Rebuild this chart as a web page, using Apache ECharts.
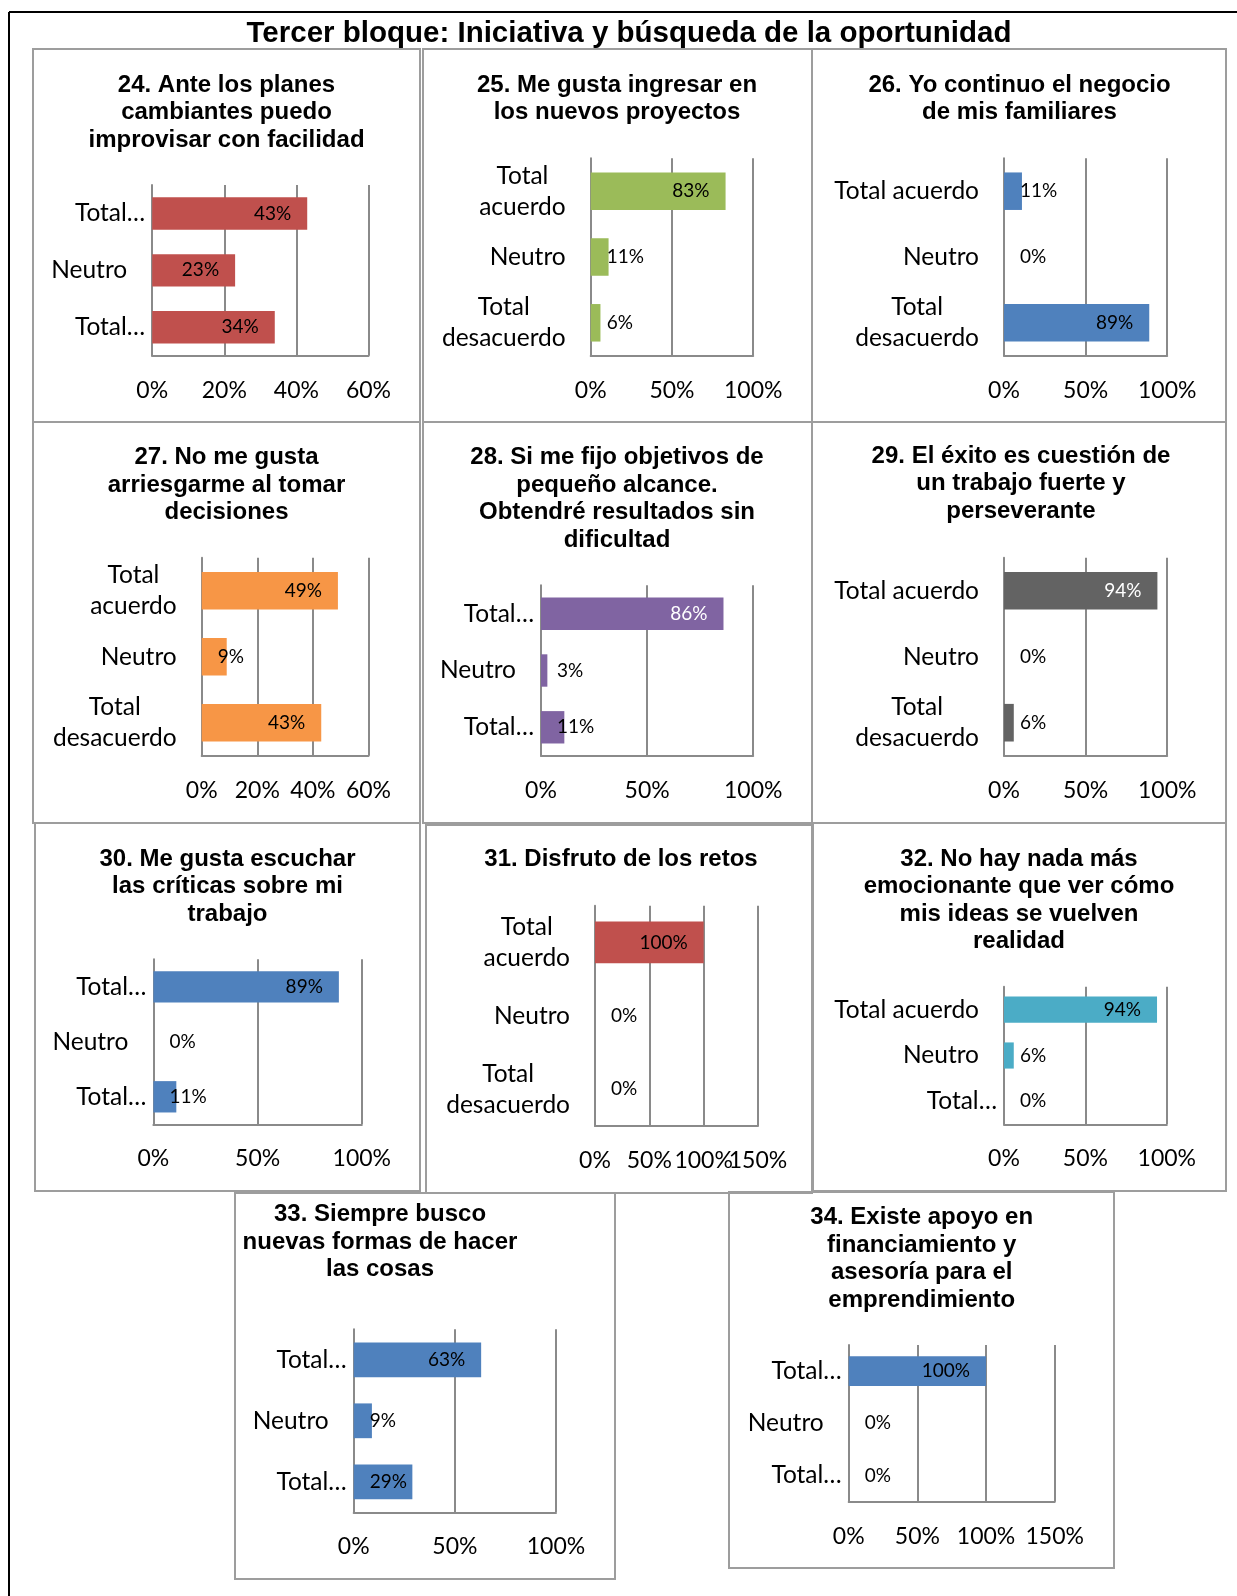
<!DOCTYPE html>
<html>
<head>
<meta charset="utf-8">
<script src="https://cdn.jsdelivr.net/npm/echarts@6/dist/echarts.min.js"></script>
<style>
  html, body { margin: 0; padding: 0; background: #ffffff; }
  #chart { width: 1237px; height: 1596px; }
</style>
</head>
<body>
<div id="chart"></div>
<script>
// ---------- Data ----------
const mainTitle = 'Tercer bloque: Iniciativa y búsqueda de la oportunidad';

const title24 = ['24. Ante los planes', 'cambiantes puedo', 'improvisar con facilidad'];
const title25 = ['25. Me gusta ingresar en', 'los nuevos proyectos'];
const title26 = ['26. Yo continuo el negocio', 'de mis familiares'];
const title27 = ['27. No me gusta', 'arriesgarme al tomar', 'decisiones'];
const title28 = ['28. Si me fijo objetivos de', 'pequeño alcance.', 'Obtendré resultados sin', 'dificultad'];
const title29 = ['29. El éxito es cuestión de', 'un trabajo fuerte y', 'perseverante'];
const title30 = ['30. Me gusta escuchar', 'las críticas sobre mi', 'trabajo'];
const title31 = ['31. Disfruto de los retos'];
const title32 = ['32. No hay nada más', 'emocionante que ver cómo', 'mis ideas se vuelven', 'realidad'];
const title33 = ['33. Siempre busco', 'nuevas formas de hacer', 'las cosas'];
const title34 = ['34. Existe apoyo en', 'financiamiento y', 'asesoría para el', 'emprendimiento'];

// category labels, top to bottom
const cats24 = ['Total…', 'Neutro', 'Total…'];
const cats25 = ['Total\nacuerdo', 'Neutro', 'Total\ndesacuerdo'];
const cats26 = ['Total acuerdo', 'Neutro', 'Total\ndesacuerdo'];
const cats27 = ['Total\nacuerdo', 'Neutro', 'Total\ndesacuerdo'];
const cats28 = ['Total…', 'Neutro', 'Total…'];
const cats29 = ['Total acuerdo', 'Neutro', 'Total\ndesacuerdo'];
const cats30 = ['Total…', 'Neutro', 'Total…'];
const cats31 = ['Total\nacuerdo', 'Neutro', 'Total\ndesacuerdo'];
const cats32 = ['Total acuerdo', 'Neutro', 'Total…'];
const cats33 = ['Total…', 'Neutro', 'Total…'];
const cats34 = ['Total…', 'Neutro', 'Total…'];

// percentages, same order as the categories
const values24 = [43, 23, 34];
const values25 = [83, 11, 6];
const values26 = [11, 0, 89];
const values27 = [49, 9, 43];
const values28 = [86, 3, 11];
const values29 = [94, 0, 6];
const values30 = [89, 0, 11];
const values31 = [100, 0, 0];
const values32 = [94, 6, 0];
const values33 = [63, 9, 29];
const values34 = [100, 0, 0];

// axis tick values (shown as percentages)
const ticks60 = [0, 20, 40, 60];
const ticks100 = [0, 50, 100];
const ticks150 = [0, 50, 100, 150];

// ---------- Layout & styles ----------
const RED = '#C0504D', GREEN = '#9BBB59', BLUE = '#4F81BD', ORANGE = '#F79646',
      PURPLE = '#8064A2', DARK = '#636363', AQUA = '#4BACC6';

const panels = [
  { title: title24, cats: cats24, values: values24, ticks: ticks60,  color: RED,
    box: [33, 49, 387, 373],   grid: [152.2, 185, 216.3, 170.7], tx: 226.5, ty: 85 },
  { title: title25, cats: cats25, values: values25, ticks: ticks100, color: GREEN,
    box: [423, 49, 389, 373],  grid: [590.7, 158.3, 162.5, 197.4], tx: 617, ty: 85 },
  { title: title26, cats: cats26, values: values26, ticks: ticks100, color: BLUE,
    box: [812, 49, 414, 373],  grid: [1004, 158.3, 163.2, 197.4], tx: 1019.5, ty: 85 },
  { title: title27, cats: cats27, values: values27, ticks: ticks60,  color: ORANGE,
    box: [33, 422, 387, 401],  grid: [201.7, 557.7, 166.8, 198], tx: 226.5, ty: 457.5 },
  { title: title28, cats: cats28, values: values28, ticks: ticks100, color: PURPLE, darkBar: true,
    box: [423, 422, 389, 401], grid: [541, 585.3, 212.2, 170.4], tx: 617, ty: 457.5 },
  { title: title29, cats: cats29, values: values29, ticks: ticks100, color: DARK, darkBar: true,
    box: [812, 422, 414, 401], grid: [1004, 557.7, 163.2, 198], tx: 1021, ty: 456 },
  { title: title30, cats: cats30, values: values30, ticks: ticks100, color: BLUE,
    box: [35, 823, 385, 368],  grid: [153.4, 959.3, 208.4, 165], tx: 227.5, ty: 859 },
  { title: title31, cats: cats31, values: values31, ticks: ticks150, color: RED,
    box: [426, 825, 386, 368], grid: [595, 905.7, 163, 220.3], tx: 621, ty: 859.5 },
  { title: title32, cats: cats32, values: values32, ticks: ticks100, color: AQUA,
    box: [813, 823, 413, 368], grid: [1004, 986.7, 162.8, 137.6], tx: 1019, ty: 859 },
  { title: title33, cats: cats33, values: values33, ticks: ticks100, color: BLUE,
    box: [235, 1193, 380, 386], grid: [353.7, 1329.3, 202.3, 183], tx: 380, ty: 1214.5 },
  { title: title34, cats: cats34, values: values34, ticks: ticks150, color: BLUE,
    box: [729, 1192, 385, 376], grid: [848.7, 1345, 206, 156.7], tx: 921.7, ty: 1217.5 }
];

const GRID_COLOR = '#8a8a8a';
const BOX_COLOR = '#9d9d9d';
const LABEL_FONT = 'Lato';
const TITLE_FONT = '"Liberation Sans", Arial, sans-serif';
const TITLE_LH = 27.5;
const CAT_FONT_SIZE = 24.5;
const TICK_FONT_SIZE = 23;
const VALUE_FONT_SIZE = 19;
const VALUE_INSET = 16;

// measuring the value labels decides whether they fit inside their bar
const measureCtx = document.createElement('canvas').getContext('2d');
measureCtx.font = VALUE_FONT_SIZE + 'px ' + LABEL_FONT;

function valueLabel(v, max, plotWidth, darkBar) {
  const w = measureCtx.measureText(v + '%').width;
  const barLen = v / max * plotWidth;
  if (barLen - 2 * VALUE_INSET - w >= 0) {
    return { position: 'insideRight', distance: VALUE_INSET, color: darkBar ? '#ffffff' : '#000000' };
  }
  return { position: [VALUE_INSET, '50%'], align: 'left', verticalAlign: 'middle', color: '#000000' };
}

function categoryLabel(text) {
  if (text.endsWith('…')) return '{e|' + text + '}';
  return text.split('\n').map(function (l) { return '{c|' + l + '}'; }).join('\n');
}

const tickLabelStyle = {
  formatter: '{value}%',
  fontFamily: LABEL_FONT, fontSize: TICK_FONT_SIZE, color: '#000000',
  margin: 23, hideOverlap: false
};

const option = {
  backgroundColor: '#ffffff',
  animation: false,
  title: [],
  grid: [],
  xAxis: [],
  yAxis: [],
  series: [],
  graphic: []
};

// main heading
option.title.push({
  text: mainTitle,
  left: 629, top: 18.5, padding: 0,
  textAlign: 'center',
  textStyle: { fontFamily: TITLE_FONT, fontWeight: 'bold', fontSize: 29.5, color: '#000000', lineHeight: 30 }
});

// frame lines on the left and top
option.graphic.push(
  { type: 'line', shape: { x1: 9, y1: 12, x2: 1237, y2: 12 }, style: { stroke: '#000000', lineWidth: 2 } },
  { type: 'line', shape: { x1: 9, y1: 12, x2: 9, y2: 1596 }, style: { stroke: '#000000', lineWidth: 2 } }
);

panels.forEach(function (p, i) {
  const ticks = p.ticks;
  const max = ticks[ticks.length - 1];
  const interval = ticks[1] - ticks[0];
  // alternate tick labels live on two stacked axes, so crowded neighbours are all kept
  const evenTicks = ticks.filter(function (t, k) { return k % 2 === 0; });
  const oddTicks = ticks.filter(function (t, k) { return k % 2 === 1; });

  option.graphic.push({
    type: 'rect',
    shape: { x: p.box[0], y: p.box[1], width: p.box[2], height: p.box[3] },
    style: { fill: 'none', stroke: BOX_COLOR, lineWidth: 2 }
  });

  option.title.push({
    text: p.title.join('\n'),
    left: p.tx, top: p.ty - TITLE_LH / 2, padding: 0,
    textAlign: 'center',
    textStyle: { fontFamily: TITLE_FONT, fontWeight: 'bold', fontSize: 24, color: '#000000', lineHeight: TITLE_LH }
  });

  option.grid.push({
    left: p.grid[0], top: p.grid[1], width: p.grid[2], height: p.grid[3],
    containLabel: false, outerBoundsMode: 'none'
  });

  // main value axis: axis line, gridlines and the even tick labels
  option.xAxis.push({
    type: 'value', gridIndex: i, position: 'bottom',
    min: ticks[0], max: max, interval: interval,
    axisLine: { show: true, lineStyle: { color: GRID_COLOR, width: 2 } },
    axisTick: { show: false },
    splitLine: { show: true, showMinLine: true, showMaxLine: true, lineStyle: { color: GRID_COLOR, width: 2 } },
    axisLabel: Object.assign({ customValues: evenTicks }, tickLabelStyle)
  });
  // companion axis carrying the odd tick labels
  option.xAxis.push({
    type: 'value', gridIndex: i, position: 'bottom',
    min: ticks[0], max: max, interval: interval,
    axisLine: { show: false },
    axisTick: { show: false },
    splitLine: { show: false },
    axisLabel: Object.assign({ customValues: oddTicks }, tickLabelStyle)
  });

  option.yAxis.push({
    type: 'category', gridIndex: i, inverse: true,
    data: p.cats,
    axisLine: { show: true, lineStyle: { color: GRID_COLOR, width: 2 } },
    axisTick: { show: false },
    splitLine: { show: false },
    axisLabel: {
      margin: 7, interval: 0, hideOverlap: false,
      formatter: categoryLabel,
      rich: {
        c: { align: 'center', padding: [0, 18, 0, 0], fontFamily: LABEL_FONT, fontSize: CAT_FONT_SIZE, lineHeight: 31, color: '#000000' },
        e: { fontFamily: LABEL_FONT, fontSize: CAT_FONT_SIZE, lineHeight: 31, color: '#000000' }
      }
    }
  });

  option.series.push({
    type: 'bar', xAxisIndex: 2 * i, yAxisIndex: i,
    barCategoryGap: '43%',
    itemStyle: { color: p.color },
    label: { show: true, formatter: '{c}%', fontFamily: LABEL_FONT, fontSize: VALUE_FONT_SIZE },
    data: p.values.map(function (v) {
      return { value: v, label: valueLabel(v, max, p.grid[2], p.darkBar) };
    })
  });
});

const chart = echarts.init(document.getElementById('chart'));
chart.setOption(option);
</script>
</body>
</html>
